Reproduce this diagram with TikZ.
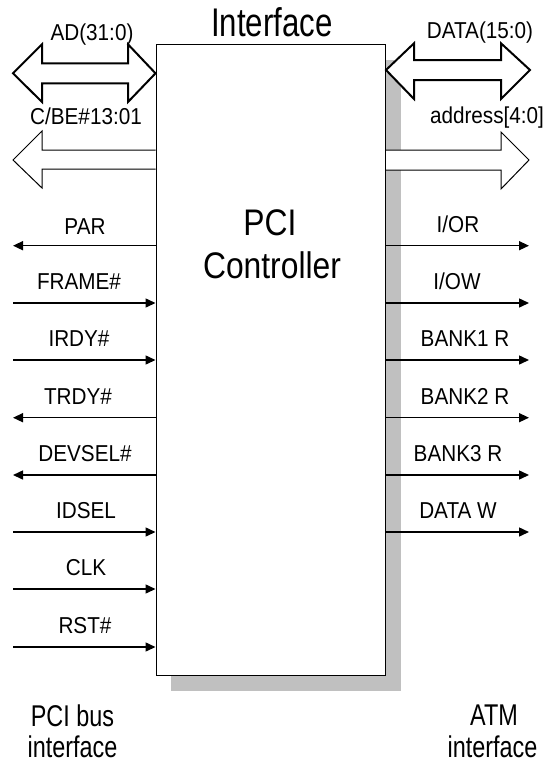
\documentclass[tikz,border=0pt]{standalone}
\usepackage{fontspec}
\setmainfont{Liberation Sans}
\newfontfamily\labfont[FakeStretch=0.9]{Liberation Sans}
\newfontfamily\bigfont[FakeStretch=0.86]{Liberation Sans}
\newfontfamily\condfont[FakeStretch=0.78]{Liberation Sans}
\usetikzlibrary{arrows.meta}
\definecolor{shadowgray}{RGB}{192,192,192}
\tikzset{
  lab/.style={font=\labfont\fontsize{23}{23}\selectfont, anchor=base, inner sep=0pt},
  title/.style={font=\bigfont\fontsize{37}{37}\selectfont, anchor=base, inner sep=0pt},
  caption/.style={font=\condfont\fontsize{30}{30}\selectfont, anchor=base, inner sep=0pt},
  ctrl/.style={draw=black, line width=1pt, fill=white, minimum width=229.5pt, minimum height=630.5pt, inner sep=0pt},
  sig/.style={line width=1.5pt, -{Triangle[length=10pt,width=9pt]}},
  busthick/.style={draw=black, fill=white, line width=2pt, line join=miter},
  busthin/.style={draw=black, fill=white, line width=1pt, line join=miter}
}
\begin{document}
\begin{tikzpicture}[x=1pt,y=-1pt]
\useasboundingbox (0,0) rectangle (547,764);
% shadow
\fill[shadowgray] (171,59.5) rectangle (401,690.5);
% controller box
\node[ctrl] (box) at (270.75,359.75) {};
% texts
\node[font=\condfont\fontsize{40}{40}\selectfont, anchor=base, inner sep=0pt] (iface) at (272,36) {Interface};
\node[title] (pci) at (270,235) {PCI};
\node[title] (ctl) at (272,278) {Controller};
% AD bus (bidirectional, left)
\filldraw[busthick] (13,73.3) -- (42,44.3) -- (42,63.3) -- (128,63.3) -- (128,44.3) -- (box.west |- 0,73.3)
  -- (128,102) -- (128,83.3) -- (42,83.3) -- (42,102) -- cycle;
\node[lab] (ad) at (92,40) {AD(31:0)};
% C/BE bus (to the left)
\filldraw[busthin] (box.west |- 0,150) -- (42,150) -- (42,131) -- (13,160) -- (42,188) -- (42,169) -- (box.west |- 0,169);
\node[lab] (cbe) at (86,124) {C/BE\#13:01};
% DATA bus (bidirectional, right)
\filldraw[busthick] (box.east |- 0,70) -- (414,43.3) -- (414,60) -- (501,60) -- (501,43.3) -- (530,70)
  -- (501,99) -- (501,80) -- (414,80) -- (414,99) -- cycle;
\node[lab] (data) at (480,38) {DATA(15:0)};
% address bus (to the right)
\filldraw[busthin] (box.east |- 0,150) -- (501,150) -- (501,132) -- (529,160) -- (501,189) -- (501,170) -- (box.east |- 0,170);
\node[lab] (addr) at (487,123) {address[4:0]};
% left signals
\coordinate (lPAR) at (13,245.7);
\coordinate (lFRAME) at (13,303);
\coordinate (lIRDY) at (13,360);
\coordinate (lTRDY) at (13,417.7);
\coordinate (lDEVSEL) at (13,475);
\coordinate (lIDSEL) at (13,532);
\coordinate (lCLK) at (13,589);
\coordinate (lRST) at (13,647);
\draw[sig] (box.west |- lPAR) -- (lPAR);
\draw[sig] (lFRAME) -- (box.west |- lFRAME);
\draw[sig] (lIRDY) -- (box.west |- lIRDY);
\draw[sig] (box.west |- lTRDY) -- (lTRDY);
\draw[sig] (box.west |- lDEVSEL) -- (lDEVSEL);
\draw[sig] (lIDSEL) -- (box.west |- lIDSEL);
\draw[sig] (lCLK) -- (box.west |- lCLK);
\draw[sig] (lRST) -- (box.west |- lRST);
\node[lab] (tPAR) at (85,234.5) {PAR};
\node[lab] (tFRAME) at (79,289.5) {FRAME\#};
\node[lab] (tIRDY) at (79,346.7) {IRDY\#};
\node[lab] (tTRDY) at (78,404) {TRDY\#};
\node[lab] (tDEVSEL) at (85,461.5) {DEVSEL\#};
\node[lab] (tIDSEL) at (86,518.5) {IDSEL};
\node[lab] (tCLK) at (86,575.5) {CLK};
\node[lab] (tRST) at (85,633.5) {RST\#};
% right signals
\coordinate (rIOR) at (529,245.7);
\coordinate (rIOW) at (529,303);
\coordinate (rB1) at (529,360);
\coordinate (rB2) at (529,417.7);
\coordinate (rB3) at (529,475);
\coordinate (rDW) at (529,532);
\draw[sig] (box.east |- rIOR) -- (rIOR);
\draw[sig] (box.east |- rIOW) -- (rIOW);
\draw[sig] (box.east |- rB1) -- (rB1);
\draw[sig] (box.east |- rB2) -- (rB2);
\draw[sig] (box.east |- rB3) -- (rB3);
\draw[sig] (box.east |- rDW) -- (rDW);
\node[lab] (tIOR) at (458,232) {I/OR};
\node[lab] (tIOW) at (457,289.3) {I/OW};
\node[lab] (tB1) at (465,346.7) {BANK1 R};
\node[lab] (tB2) at (465,404) {BANK2 R};
\node[lab] (tB3) at (458,461.5) {BANK3 R};
\node[lab] (tDW) at (458,518.5) {DATA W};
% captions
\node[caption] (pcibus) at (72.5,726.7) {PCI bus};
\node[caption] (pciif) at (72.5,757) {interface};
\node[caption] (atm) at (494,725.5) {ATM};
\node[caption] (atmif) at (492.5,757) {interface};
\end{tikzpicture}
\end{document}
